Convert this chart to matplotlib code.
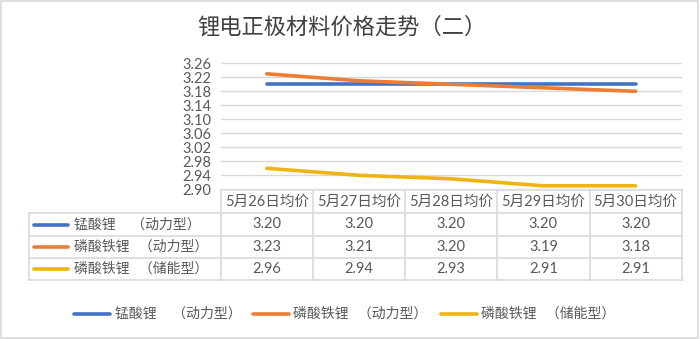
import matplotlib
matplotlib.use("Agg")
import matplotlib.pyplot as plt
from matplotlib.lines import Line2D
from matplotlib.patches import Rectangle
import matplotlib.transforms as mtransforms

# ---- data ----
dates = ["5月26日均价", "5月27日均价", "5月28日均价", "5月29日均价", "5月30日均价"]
series_names = ["锰酸锂     （动力型）", "磷酸铁锂   （动力型）", "磷酸铁锂   （储能型）"]
lmo_power = [3.20, 3.20, 3.20, 3.20, 3.20]
lfp_power = [3.23, 3.21, 3.20, 3.19, 3.18]
lfp_storage = [2.96, 2.94, 2.93, 2.91, 2.91]
y_ticks = [2.90, 2.94, 2.98, 3.02, 3.06, 3.10, 3.14, 3.18, 3.22, 3.26]
title = "锂电正极材料价格走势（二）"

series = [lmo_power, lfp_power, lfp_storage]
colors = ["#4472C4", "#ED7D31", "#EDB412"]
text_col = "#595959"
grid_col = "#D9D9D9"
num_font = ["Lato", "Noto Sans CJK SC"]
cjk_font = ["Noto Sans CJK SC", "DejaVu Sans"]

W, H = 700, 339
fig = plt.figure(figsize=(W / 100, H / 100), dpi=100)

# pixel -> figure fraction helpers
def fx(px):
    return px / W

def fy(py):
    return 1 - py / H

# outer chart border
fig.patches.append(Rectangle((fx(1), fy(337.5)), fx(698) - fx(1), fy(1) - fy(337.5),
                             transform=fig.transFigure, fill=False,
                             edgecolor="#D9D9D9", linewidth=1.2))

# title
fig.text(fx(197), fy(27), title, ha="left", va="center", fontsize=16,
         color="#404040", family=cjk_font)

# plot area
left, right, top, bottom = 220.7, 681.7, 63.3, 189.3
ax = fig.add_axes([fx(left), fy(bottom), fx(right) - fx(left), fy(top) - fy(bottom)])
n = len(dates)
ax.set_xlim(-0.5, n - 0.5)
ax.set_ylim(y_ticks[0], y_ticks[-1])
ax.set_yticks(y_ticks)
ax.set_yticklabels([f"{v:.2f}" for v in y_ticks], fontsize=10.5, color=text_col,
                   family=num_font)
ax.set_xticks([])
ax.tick_params(axis="y", length=0, pad=7)
ax.yaxis.grid(True, color=grid_col, linewidth=1)
ax.set_axisbelow(True)
for s in ax.spines.values():
    s.set_visible(False)
ax.patch.set_alpha(0)

xs = list(range(n))
for vals, c in zip(series, colors):
    ax.plot(xs, vals, color=c, linewidth=2.6, solid_capstyle="round", zorder=3)

# ---- data table below the plot ----
# x in data coordinates, y in figure pixels
tx = mtransforms.blended_transform_factory(ax.transData, fig.transFigure)
row_y = [190, 213.3, 235.7, 258, 280]
line_kw = dict(color=grid_col, linewidth=1.2, zorder=1)

def hline(x0_data, x1_data, py):
    fig.add_artist(Line2D([x0_data, x1_data], [fy(py), fy(py)], transform=tx, **line_kw))

def hline_px(x0, x1, py):
    fig.add_artist(Line2D([fx(x0), fx(x1)], [fy(py), fy(py)],
                          transform=fig.transFigure, **line_kw))

def vline_px(px, y0, y1):
    fig.add_artist(Line2D([fx(px), fx(px)], [fy(y0), fy(y1)],
                          transform=fig.transFigure, **line_kw))

# horizontal rules
hline(-0.5, n - 0.5, row_y[0])
for py in row_y[1:]:
    hline_px(28.7, right, py)
# vertical rules
vline_px(28.7, row_y[1], row_y[-1])
for i in range(n + 1):
    fig.add_artist(Line2D([i - 0.5, i - 0.5], [fy(row_y[0]), fy(row_y[-1])],
                          transform=tx, **line_kw))

# header row
hy = (row_y[0] + row_y[1]) / 2
for i, d in enumerate(dates):
    fig.text(i, fy(hy), d, transform=tx, ha="center", va="center",
             fontsize=10.5, color=text_col, family=num_font)

# body rows
for r, (name, vals, c) in enumerate(zip(series_names, series, colors)):
    cy = (row_y[r + 1] + row_y[r + 2]) / 2
    fig.add_artist(Line2D([fx(34), fx(68)], [fy(cy), fy(cy)], transform=fig.transFigure,
                          color=c, linewidth=2.6, solid_capstyle="round"))
    fig.text(fx(74), fy(cy), name, ha="left", va="center", fontsize=10,
             color=text_col, family=cjk_font)
    for i, v in enumerate(vals):
        fig.text(i, fy(cy), f"{v:.2f}", transform=tx, ha="center", va="center",
                 fontsize=10.5, color=text_col, family=num_font)

# ---- bottom legend ----
legend_y = 314
legend_x = [(74, 110, 115), (253, 289, 293), (440.7, 476.7, 481)]
for (x0, x1, xt), name, c in zip(legend_x, series_names, colors):
    fig.add_artist(Line2D([fx(x0), fx(x1)], [fy(legend_y), fy(legend_y)],
                          transform=fig.transFigure, color=c, linewidth=2.6,
                          solid_capstyle="round"))
    fig.text(fx(xt), fy(legend_y), name, ha="left", va="center", fontsize=10,
             color=text_col, family=cjk_font)

fig.savefig("out.png", dpi=100, facecolor="white")
